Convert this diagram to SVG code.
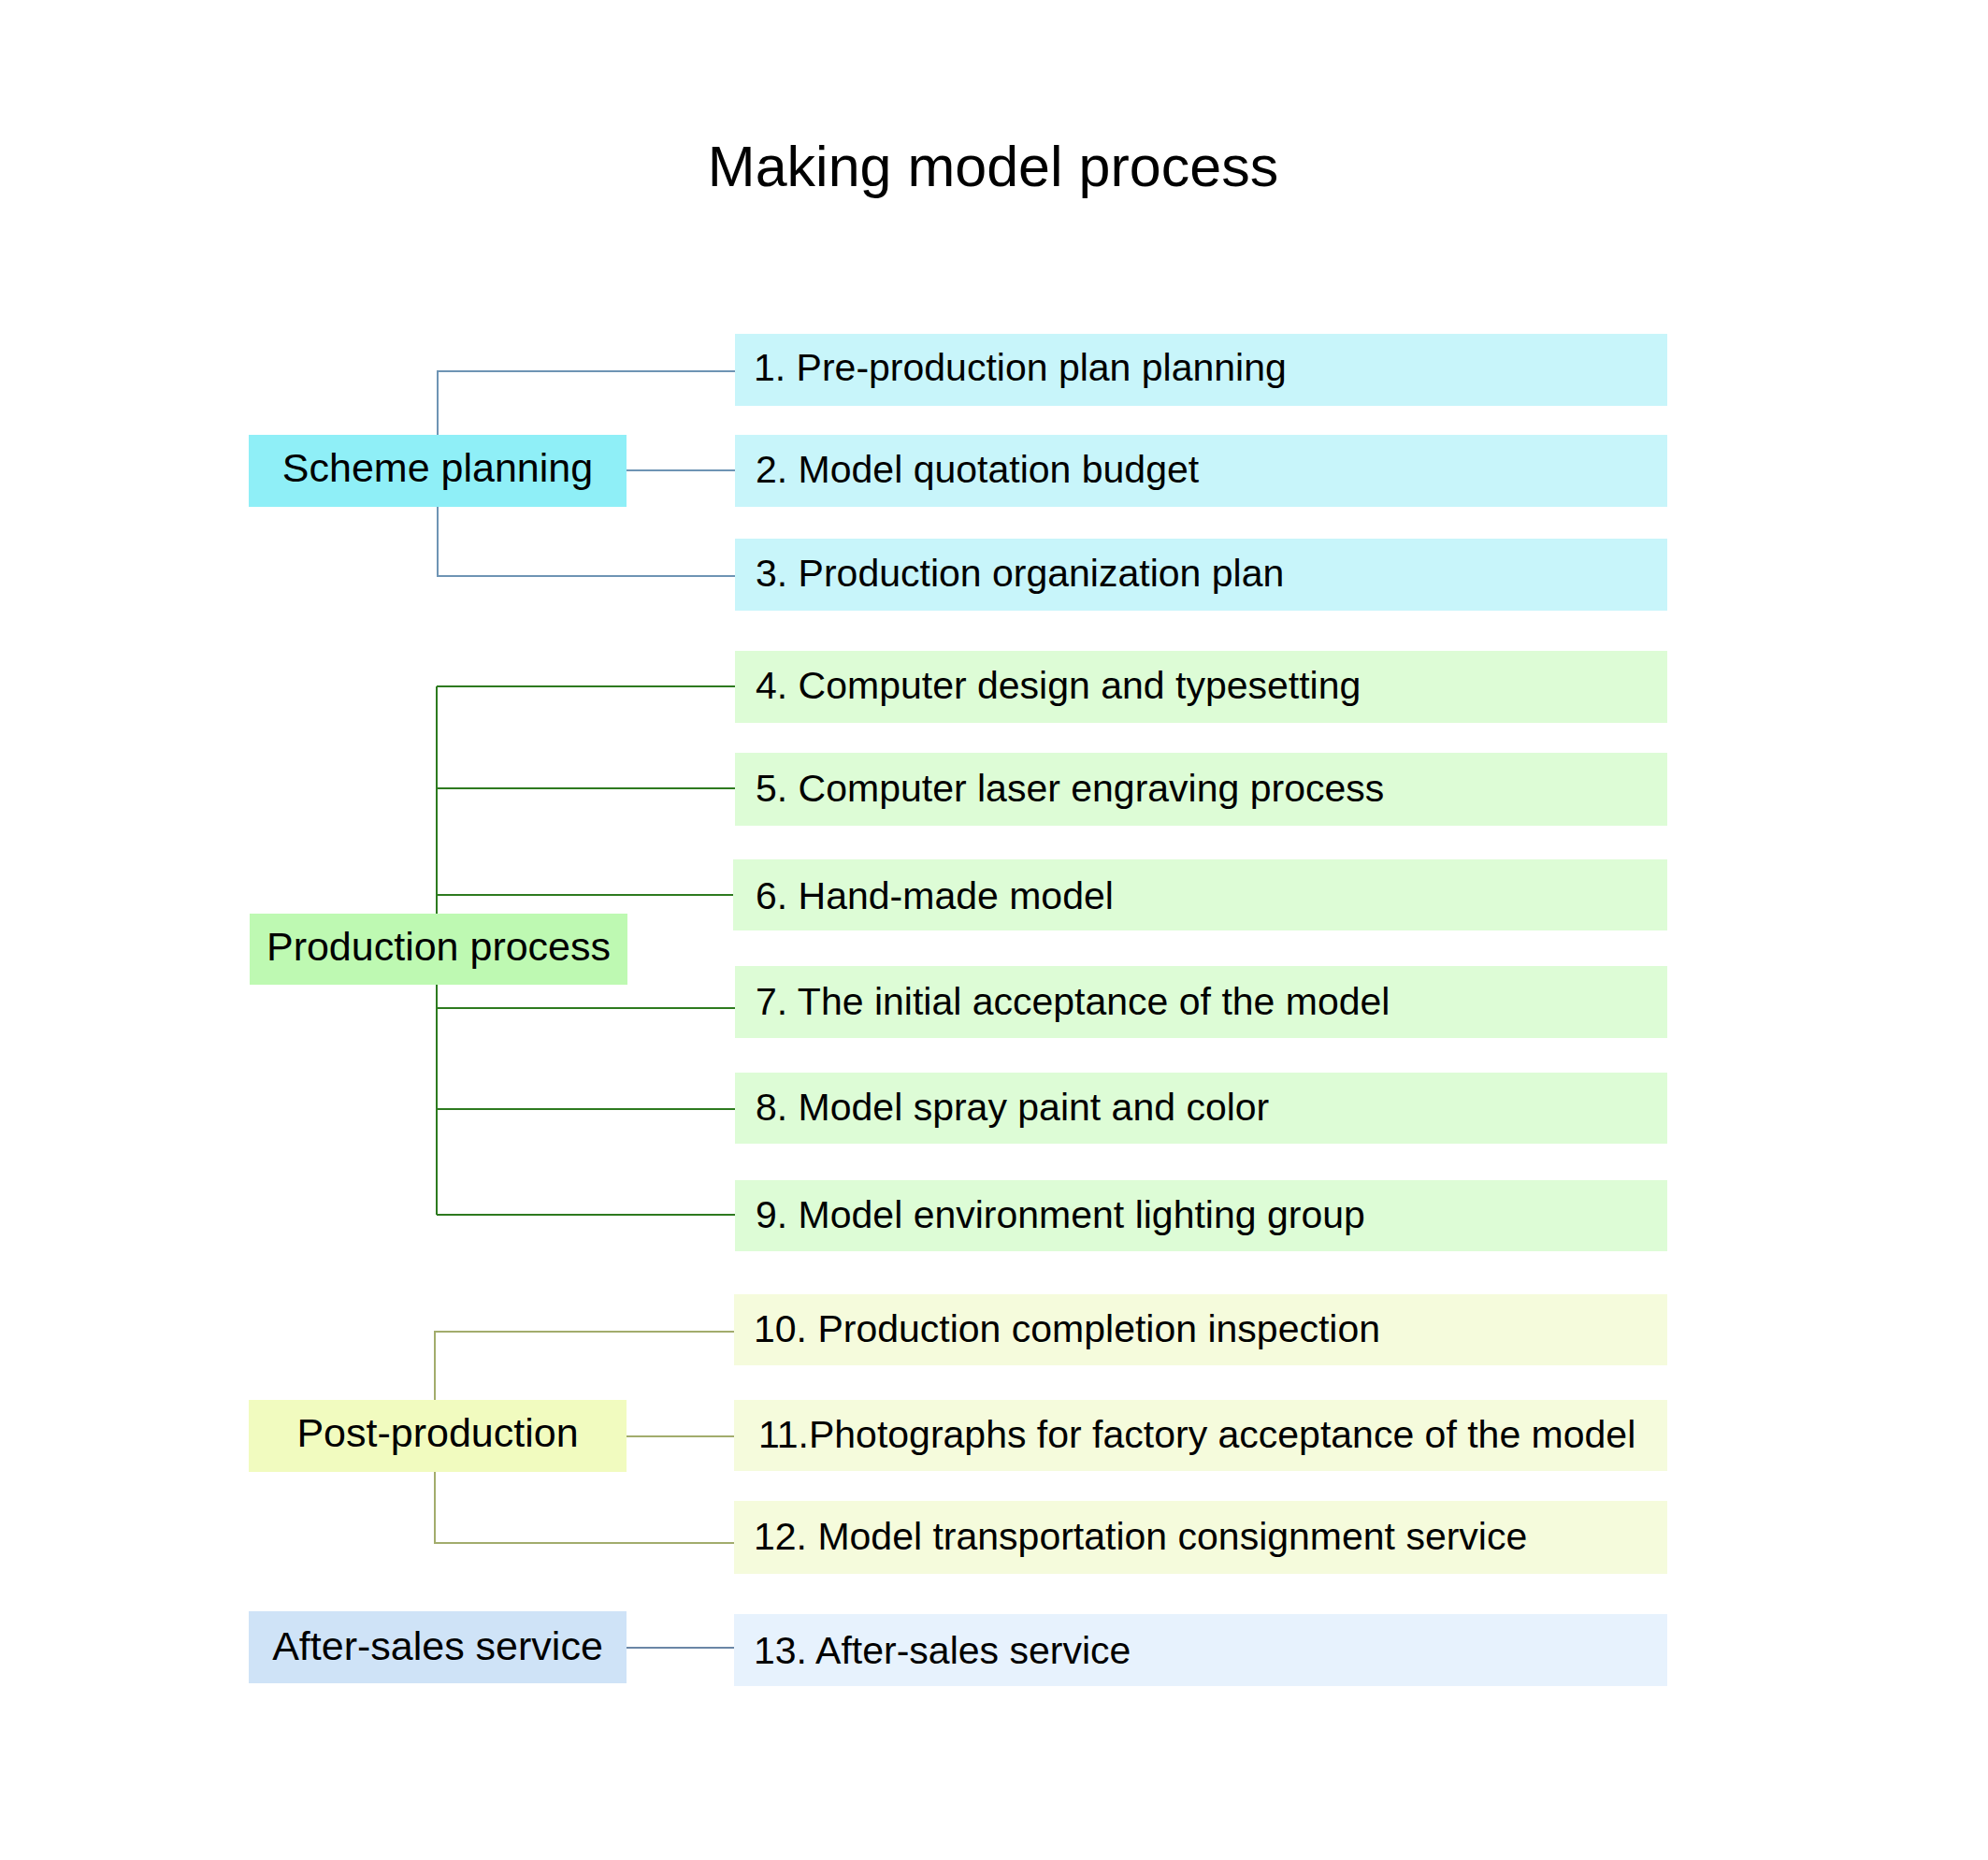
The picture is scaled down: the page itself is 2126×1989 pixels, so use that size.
<svg xmlns="http://www.w3.org/2000/svg" width="2126" height="1989" viewBox="0 0 2126 1989">
<style>
text{font-family:"Liberation Sans",Arial,sans-serif;fill:#000}
.title{font-size:61px;text-anchor:middle}
.cat{font-size:43px;text-anchor:middle}
.item{font-size:41px}
.c1{stroke:#6E94B4;stroke-width:2;fill:none}
.c2{stroke:#2D7A1F;stroke-width:2;fill:none}
.c3{stroke:#A2AC6C;stroke-width:2;fill:none}
.c4{stroke:#6A86A6;stroke-width:2;fill:none}
.k1{fill:#8FEFF7}.i1{fill:#C8F5FA}
.k2{fill:#BEF9B2}.i2{fill:#DDFCD6}
.k3{fill:#F1FBBF}.i3{fill:#F5FBDC}
.k4{fill:#CFE3F7}.i4{fill:#E7F2FD}
</style>
<rect width="2126" height="1989" fill="#fff"/>
<text class="title" x="1062" y="199">Making model process</text>
<g id="connectors">
<path class="c1" d="M468 465V397H786M670 503H786M468 542V616H786"/>
<path class="c2" d="M467 734V1299M467 734H786M467 843H786M467 957H784M467 1078H786M467 1186H786M467 1299H786"/>
<path class="c3" d="M465 1497V1424H786M670 1536H786M465 1574V1650H786"/>
<path class="c4" d="M670 1762H786"/>
</g>
<g id="scheme-planning"><rect class="k1" x="266" y="465" width="404" height="77"/><text class="cat" x="468" y="515">Scheme planning</text></g>
<g id="production-process"><rect class="k2" x="267" y="977" width="404" height="76"/><text class="cat" x="469" y="1027">Production process</text></g>
<g id="post-production"><rect class="k3" x="266" y="1497" width="404" height="77"/><text class="cat" x="468" y="1547">Post-production</text></g>
<g id="after-sales"><rect class="k4" x="266" y="1723" width="404" height="77"/><text class="cat" x="468" y="1775">After-sales service</text></g>
<g id="item1"><rect class="i1" x="786" y="357" width="997" height="77"/><text class="item" x="806" y="407">1. Pre-production plan planning</text></g>
<g id="item2"><rect class="i1" x="786" y="465" width="997" height="77"/><text class="item" x="808" y="516">2. Model quotation budget</text></g>
<g id="item3"><rect class="i1" x="786" y="576" width="997" height="77"/><text class="item" x="808" y="627">3. Production organization plan</text></g>
<g id="item4"><rect class="i2" x="786" y="696" width="997" height="77"/><text class="item" x="808" y="747">4. Computer design and typesetting</text></g>
<g id="item5"><rect class="i2" x="786" y="805" width="997" height="78"/><text class="item" x="808" y="857">5. Computer laser engraving process</text></g>
<g id="item6"><rect class="i2" x="784" y="919" width="999" height="76"/><text class="item" x="808" y="972">6. Hand-made model</text></g>
<g id="item7"><rect class="i2" x="786" y="1033" width="997" height="77"/><text class="item" x="808" y="1085">7. The initial acceptance of the model</text></g>
<g id="item8"><rect class="i2" x="786" y="1147" width="997" height="76"/><text class="item" x="808" y="1198">8. Model spray paint and color</text></g>
<g id="item9"><rect class="i2" x="786" y="1262" width="997" height="76"/><text class="item" x="808" y="1313">9. Model environment lighting group</text></g>
<g id="item10"><rect class="i3" x="785" y="1384" width="998" height="76"/><text class="item" x="806" y="1435">10. Production completion inspection</text></g>
<g id="item11"><rect class="i3" x="785" y="1497" width="998" height="76"/><text class="item" x="811" y="1548">11.Photographs for factory acceptance of the model</text></g>
<g id="item12"><rect class="i3" x="785" y="1605" width="998" height="78"/><text class="item" x="806" y="1657">12. Model transportation consignment service</text></g>
<g id="item13"><rect class="i4" x="785" y="1726" width="998" height="77"/><text class="item" x="806" y="1779">13. After-sales service</text></g>
</svg>
